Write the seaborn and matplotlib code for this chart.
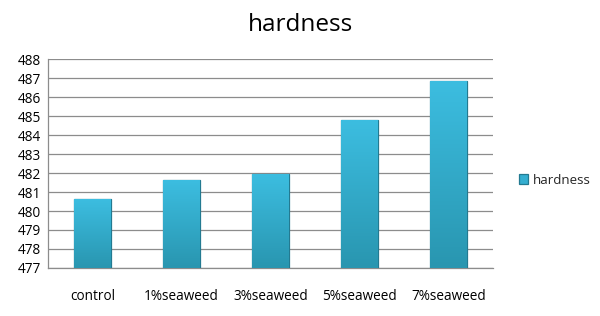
import numpy as np
import pandas as pd
import matplotlib
matplotlib.use("Agg")
import matplotlib.pyplot as plt
from matplotlib.colors import LinearSegmentedColormap
import seaborn as sns

categories = ["control", "1%seaweed", "3%seaweed", "5%seaweed", "7%seaweed"]
hardness = [480.62, 481.63, 481.95, 484.78, 486.82]
yticks = list(range(477, 489))

df = pd.DataFrame({"group": categories, "hardness": hardness})

sns.set_style("white")
plt.rcParams["font.family"] = ["Open Sans", "DejaVu Sans"]

fig = plt.figure(figsize=(6, 3.16), dpi=100)
ax = fig.add_axes([0.08, 0.152, 0.742, 0.661])

sns.barplot(data=df, x="group", y="hardness", color="#34aed0", width=0.41,
            edgecolor="#237a91", linewidth=0.9, saturation=1, ax=ax,
            label="hardness", zorder=3)

ymin, ymax = 477, 488
# vertical gradient inside each bar (light top, darker bottom)
grad = LinearSegmentedColormap.from_list("g", ["#2996b0", "#3cbde0"])
for p in list(ax.patches):
    x0, w = p.get_x(), p.get_width()
    top = p.get_y() + p.get_height()
    im = ax.imshow(np.linspace(0, 1, 64).reshape(-1, 1), cmap=grad, origin="lower",
                   extent=[x0, x0 + w, ymin, top], aspect="auto", zorder=3.5)
    im.set_clip_path(p)

ax.set_ylim(ymin, ymax)
ax.set_yticks(yticks)
ax.set_xlim(-0.5, 4.5)
ax.grid(axis="y", color="#8c8c8c", linewidth=0.9, zorder=0)
ax.set_axisbelow(True)
for s in ["top", "right"]:
    ax.spines[s].set_visible(False)
for s in ["left", "bottom"]:
    ax.spines[s].set_color("#8c8c8c")
    ax.spines[s].set_linewidth(0.9)
ax.tick_params(axis="both", length=0, labelsize=9.8, colors="black")
ax.tick_params(axis="x", pad=15)
ax.tick_params(axis="y", pad=5)
ax.set_xlabel("")
ax.set_ylabel("")

fig.suptitle("hardness", x=0.5, y=0.96, fontsize=17.5, color="black")
ax.legend(loc="center left", bbox_to_anchor=(1.03, 0.42), frameon=False,
          fontsize=9.6, handlelength=0.7, handleheight=0.7, handletextpad=0.4)

fig.savefig("out.png", dpi=100)
